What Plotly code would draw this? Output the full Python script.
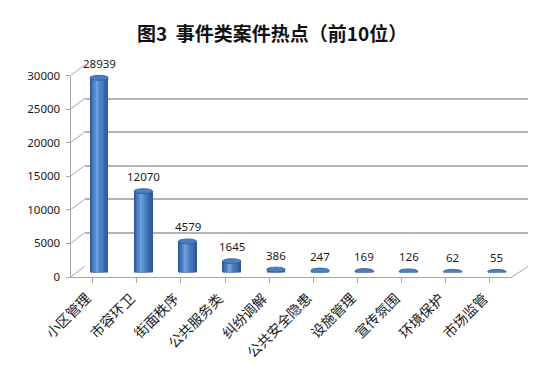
import plotly.graph_objects as go

categories = ["小区管理", "市容环卫", "街面秩序", "公共服务类", "纠纷调解",
              "公共安全隐患", "设施管理", "宣传氛围", "环境保护", "市场监管"]
values = [28939, 12070, 4579, 1645, 386, 247, 169, 126, 62, 55]
y_ticks = [0, 5000, 10000, 15000, 20000, 25000, 30000]
y_tick_text = ["0", "5000", "10000", "15000", "20000", "25000", "30000"]
title_text = "图3\u00a0\u00a0事件类案件热点（前10位）"

W, H = 553, 372
OFF = 8  # default page body margin
YMAX = 30000
def px(p):
    return (p - OFF) / W
def py(p):
    return 1 - (p - OFF) / H

# geometry (pixels, as seen in the window)
FRONT_X = (70.5, 512)
FRONT_Y = (280, 70)
BACK_X = (84.5, 528)
BACK_Y = (269, 59)
MID_X = (77, 519)
MID_Y = (275, 65)

idx = list(range(len(categories)))
fig = go.Figure()

fig.add_trace(go.Scatter(x=[0], y=[0], xaxis="x", yaxis="y", mode="markers",
                         marker=dict(opacity=0), hoverinfo="skip", showlegend=False))
fig.add_trace(go.Scatter(x=[0], y=[0], xaxis="x2", yaxis="y2", mode="markers",
                         marker=dict(opacity=0), hoverinfo="skip", showlegend=False))

bw = 0.42
layers = [(0.42, 0.0, "#2D5A95"), (0.36, -0.012, "#3766A8"), (0.28, -0.025, "#4274B8"),
          (0.19, -0.038, "#4E82C6"), (0.11, -0.048, "#5D91D2"), (0.05, -0.052, "#6E9FDC")]
for w, c, col in layers:
    fig.add_trace(go.Bar(x=idx, y=values, xaxis="x3", yaxis="y3", width=w,
                         offset=c - w / 2, marker=dict(color=col, line=dict(width=0)),
                         hoverinfo="skip", showlegend=False))

ell = 2.6 * YMAX / (MID_Y[0] - MID_Y[1])
shapes = []
for i, v in zip(idx, values):
    shapes.append(dict(type="circle", xref="x3", yref="y3", layer="between",
                       x0=i - bw / 2, x1=i + bw / 2, y0=-ell, y1=ell,
                       fillcolor="#2D5A95", line=dict(width=0)))
    shapes.append(dict(type="circle", xref="x3", yref="y3", layer="above",
                       x0=i - bw / 2, x1=i + bw / 2, y0=v - ell, y1=v + ell,
                       fillcolor="#4C7FC0", line=dict(color="#2F5A93", width=0.8)))

for t in y_ticks:
    yf = FRONT_Y[0] - t / YMAX * (FRONT_Y[0] - FRONT_Y[1])
    yb = BACK_Y[0] - t / YMAX * (BACK_Y[0] - BACK_Y[1])
    shapes.append(dict(type="line", xref="paper", yref="paper",
                       x0=px(FRONT_X[0]), y0=py(yf), x1=px(BACK_X[0]), y1=py(yb),
                       line=dict(color="#A6A6A6", width=1), layer="below"))
shapes.append(dict(type="line", xref="paper", yref="paper",
                   x0=px(FRONT_X[1]), y0=py(FRONT_Y[0]), x1=px(BACK_X[1]), y1=py(BACK_Y[0]),
                   line=dict(color="#A6A6A6", width=1), layer="below"))

annotations = []
for i, v in zip(idx, values):
    annotations.append(dict(x=i, y=v, xref="x3", yref="y3", text=str(v), showarrow=False,
                            yanchor="bottom", yshift=5,
                            font=dict(family="Noto Sans", size=11.5, color="#1A1A1A")))
for i, c in zip(idx, categories):
    annotations.append(dict(x=i, y=py(289), xref="x", yref="paper", text=c, showarrow=False,
                            textangle=-45, xanchor="right", yanchor="top", xshift=5,
                            font=dict(family="Noto Sans CJK SC", size=14, color="#1A1A1A")))
annotations.append(dict(x=px(271.5), y=py(25), xref="paper", yref="paper",
                        text="<b>" + title_text + "</b>",
                        showarrow=False, xanchor="center", yanchor="middle",
                        font=dict(family="Noto Sans CJK SC", size=19, color="#111111")))

rng_x = [-0.5, len(categories) - 0.5]
fig.update_layout(
    width=W, height=H, margin=dict(l=0, r=0, t=0, b=0),
    paper_bgcolor="white", plot_bgcolor="rgba(0,0,0,0)",
    barmode="overlay", bargap=0,
    shapes=shapes, annotations=annotations,
    xaxis=dict(domain=[px(FRONT_X[0]), px(FRONT_X[1])], range=rng_x, anchor="y",
               tickmode="array", tickvals=idx, ticktext=[""] * len(idx),
               tickson="boundaries", ticks="outside", ticklen=5, tickcolor="#A6A6A6",
               showline=True, linecolor="#A6A6A6", linewidth=1, showgrid=False, zeroline=False),
    yaxis=dict(domain=[py(FRONT_Y[0]), py(FRONT_Y[1])], range=[0, YMAX], anchor="x",
               tickmode="array", tickvals=y_ticks, ticktext=y_tick_text,
               ticks="outside", ticklen=4, tickcolor="#A6A6A6",
               showline=True, linecolor="#A6A6A6", linewidth=1, showgrid=False, zeroline=False,
               ticklabelstandoff=3,
               tickfont=dict(family="Noto Sans", size=11.5, color="#1A1A1A")),
    xaxis2=dict(domain=[px(BACK_X[0]), px(BACK_X[1])], range=rng_x, anchor="y2", visible=False),
    yaxis2=dict(domain=[py(BACK_Y[0]), py(BACK_Y[1])], range=[0, YMAX], anchor="x2",
                tickmode="array", tickvals=y_ticks, showticklabels=False, ticks="",
                showgrid=True, gridcolor="#B3B3B3", gridwidth=2, zeroline=False, showline=False),
    xaxis3=dict(domain=[px(MID_X[0]), px(MID_X[1])], range=rng_x, anchor="y3", visible=False),
    yaxis3=dict(domain=[py(MID_Y[0]), py(MID_Y[1])], range=[0, YMAX], anchor="x3", visible=False),
)

fig.write_html("out.html", config={"displayModeBar": False})
